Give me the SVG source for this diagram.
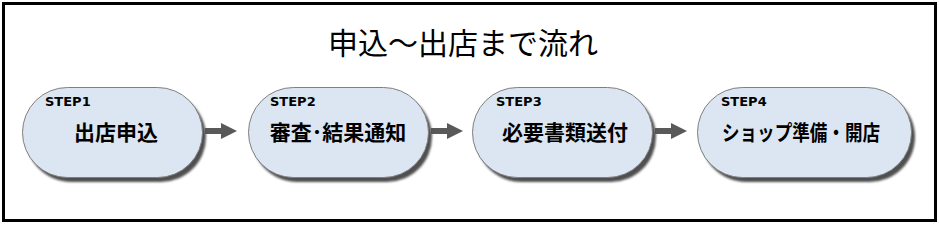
<svg xmlns="http://www.w3.org/2000/svg" width="939" height="226" viewBox="0 0 939 226">
<defs>
<style>
.shadow{fill:#505050}
.pill{fill:#dce6f2;stroke:#7f7f7f;stroke-width:1}
.step{font-family:"DejaVu Sans","Liberation Sans",sans-serif;font-weight:bold;font-size:13px;fill:#000}
.lbl{font-family:"Noto Sans CJK JP",sans-serif;font-weight:bold;font-size:21px;fill:#000;text-anchor:middle}
.title{font-family:"Noto Sans CJK JP",sans-serif;font-size:30px;fill:#000;text-anchor:middle}
.arr{fill:#595959}
</style>
<filter id="blur" x="-10%" y="-10%" width="120%" height="130%"><feGaussianBlur stdDeviation="0.8"/></filter>
</defs>
<rect x="3.5" y="3.5" width="932" height="217" fill="#fff" stroke="#000" stroke-width="3"/>
<text class="title" x="463" y="54">申込～出店まで流れ</text>
<g id="connectors">
<path class="arr" d="M205 128 H221 V123 L237 131 L221 139 V134 H205 Z"/>
<path class="arr" d="M431 128 H447 V123 L463 131 L447 139 V134 H431 Z"/>
<path class="arr" d="M655 128 H671 V123 L687 131 L671 139 V134 H655 Z"/>
</g>
<g id="step1">
<rect class="shadow" x="26" y="92" width="180" height="90" rx="45" filter="url(#blur)"/>
<rect class="pill" x="22.5" y="87.5" width="180" height="90" rx="45"/>
<text class="step" x="45" y="106">STEP1</text>
<text class="lbl" x="116" y="140">出店申込</text>
</g>
<g id="step2">
<rect class="shadow" x="252" y="92" width="180" height="90" rx="45" filter="url(#blur)"/>
<rect class="pill" x="248.5" y="87.5" width="180" height="90" rx="45"/>
<text class="step" x="270" y="106">STEP2</text>
<text class="lbl" x="338" y="140">審査･結果通知</text>
</g>
<g id="step3">
<rect class="shadow" x="476" y="92" width="180" height="90" rx="45" filter="url(#blur)"/>
<rect class="pill" x="472.5" y="87.5" width="180" height="90" rx="45"/>
<text class="step" x="496" y="106">STEP3</text>
<text class="lbl" x="565" y="140">必要書類送付</text>
</g>
<g id="step4">
<rect class="shadow" x="701" y="92" width="214" height="90" rx="45" filter="url(#blur)"/>
<rect class="pill" x="697.5" y="87.5" width="214" height="90" rx="45"/>
<text class="step" x="721" y="106">STEP4</text>
<text class="lbl" x="801" y="140" textLength="158" lengthAdjust="spacingAndGlyphs">ショップ準備・開店</text>
</g>
</svg>
